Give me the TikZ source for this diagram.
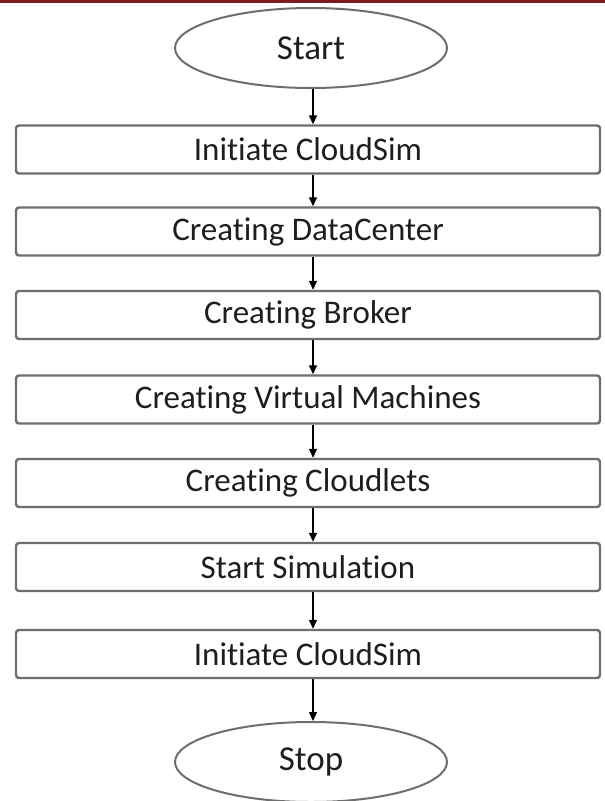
\documentclass[tikz,border=0pt]{standalone}
\usepackage{fontspec}
\setmainfont{Carlito}[RawFeature=-liga]
\usetikzlibrary{arrows.meta,shapes.geometric}
\definecolor{edgegray}{HTML}{6E6E6E}
\definecolor{topred}{HTML}{7A1E1E}
\definecolor{txt}{HTML}{1E1E1E}
\begin{document}
\begin{tikzpicture}[x=1pt,y=-1pt,
  stepbox/.style={draw=edgegray,line width=2.4pt,rounded corners=3pt,minimum width=584pt,minimum height=48pt,inner sep=0pt,font=\fontsize{33}{38}\selectfont,text=txt},
  term/.style={draw=edgegray,line width=2pt,ellipse,minimum width=272pt,minimum height=80pt,inner sep=0pt,font=\fontsize{35}{40}\selectfont,text=txt},
  flow/.style={-{Triangle[length=9pt,width=8pt]},line width=1.3pt,black}]
\useasboundingbox (0,0) rectangle (605,801);
\fill[white] (0,0) rectangle (605,801);
\fill[topred] (0,0) rectangle (605,3);
\node[term] (start) at (311,48) {Start};
\node[stepbox] (b1) at (308,149.5) {Initiate CloudSim};
\node[stepbox] (b2) at (308,231.5) {Creating DataCenter};
\node[stepbox] (b3) at (308,315) {Creating Broker};
\node[stepbox] (b4) at (308,399.5) {Creating Virtual Machines};
\node[stepbox] (b5) at (308,483) {Creating Cloudlets};
\node[stepbox] (b6) at (308,567) {Start Simulation};
\node[stepbox] (b7) at (308,654) {Initiate CloudSim};
\node[term] (stop) at (311,762) {Stop};
\draw[flow] (start.south -| 313,0) -- (b1.north -| 313,0);
\draw[flow] (b1.south -| 313,0) -- (b2.north -| 313,0);
\draw[flow] (b2.south -| 313,0) -- (b3.north -| 313,0);
\draw[flow] (b3.south -| 313,0) -- (b4.north -| 313,0);
\draw[flow] (b4.south -| 313,0) -- (b5.north -| 313,0);
\draw[flow] (b5.south -| 313,0) -- (b6.north -| 313,0);
\draw[flow] (b6.south -| 313,0) -- (b7.north -| 313,0);
\draw[flow] (b7.south -| 313,0) -- (stop.north -| 313,0);
\end{tikzpicture}
\end{document}
